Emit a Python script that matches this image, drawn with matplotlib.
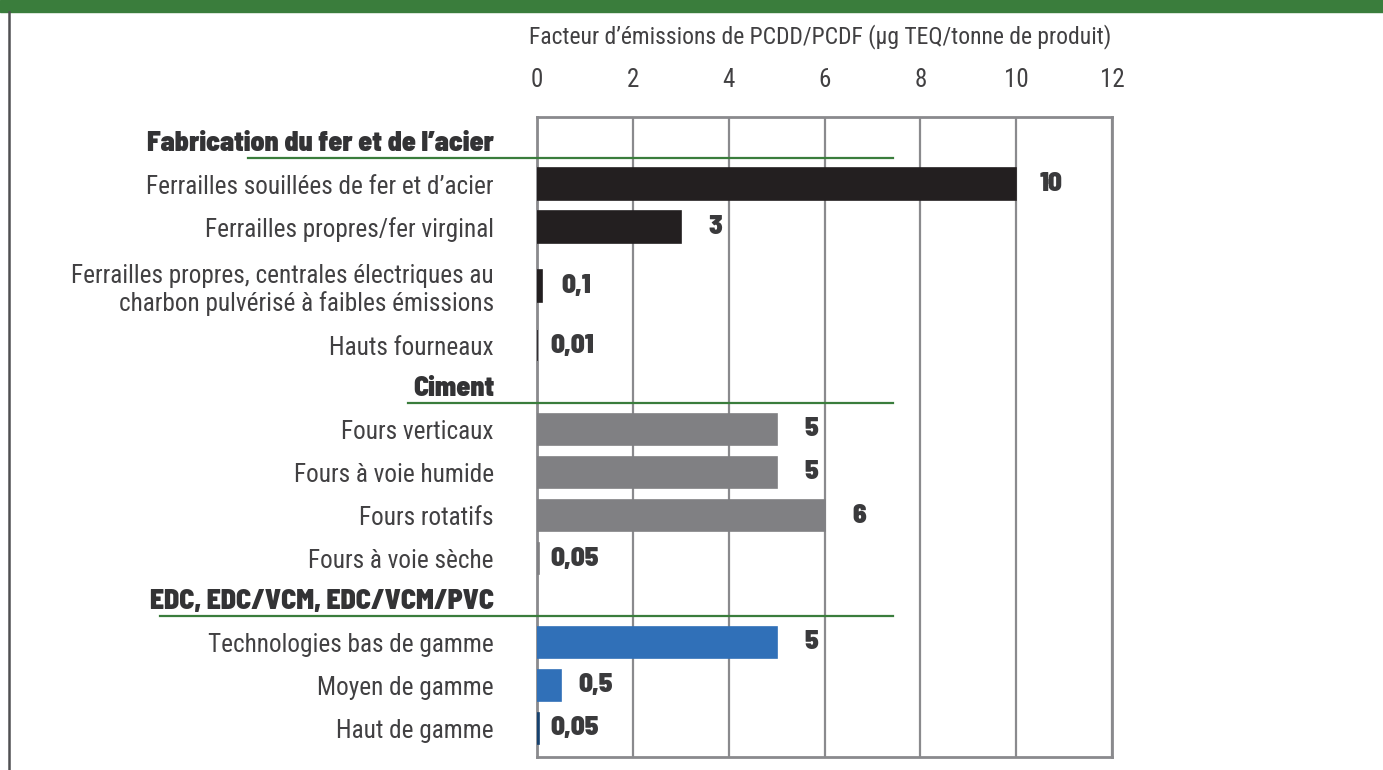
import numpy as np
import matplotlib
matplotlib.use("Agg")
import matplotlib.pyplot as plt
from matplotlib.lines import Line2D
from matplotlib.patches import Rectangle

plt.rcParams['font.family'] = ['Roboto Condensed', 'DejaVu Sans']
GRAS = ['Barlow Semi Condensed', 'Barlow Condensed', 'Roboto Condensed', 'DejaVu Sans']

# --- donnees ---
groupes = ["Fabrication du fer et de l\u2019acier", "Ciment", "EDC, EDC/VCM, EDC/VCM/PVC"]
categories = [
    ["Ferrailles souill\u00e9es de fer et d\u2019acier",
     "Ferrailles propres/fer virginal",
     "Ferrailles propres, centrales \u00e9lectriques au\ncharbon pulv\u00e9ris\u00e9 \u00e0 faibles \u00e9missions",
     "Hauts fourneaux"],
    ["Fours verticaux", "Fours \u00e0 voie humide", "Fours rotatifs", "Fours \u00e0 voie s\u00e8che"],
    ["Technologies bas de gamme", "Moyen de gamme", "Haut de gamme"],
]
valeurs = [
    [10, 3, 0.1, 0.01],
    [5, 5, 6, 0.05],
    [5, 0.5, 0.05],
]
couleurs = [
    ["#231f20", "#231f20", "#231f20", "#231f20"],
    ["#808083", "#808083", "#808083", "#808083"],
    ["#3070b8", "#3070b8", "#17426f"],
]
titre = "Facteur d\u2019\u00e9missions de PCDD/PCDF (\u00b5g TEQ/tonne de produit)"
ticks_x = [0, 2, 4, 6, 8, 10, 12]

VERT = "#3a7d3c"
GRIS_TXT = "#414042"
GRIS_AXE = "#8a8a8d"


def fmt(v):
    if float(v).is_integer():
        return str(int(v))
    return ("%g" % v).replace(".", ",")


# --- positions des lignes ---
pos_groupes, pos_bars, labels_bars, vals, cols = [], [], [], [], []
y = 0.57
for gi, (g, cats, vs, cs) in enumerate(zip(groupes, categories, valeurs, couleurs)):
    if gi > 0:
        y += 0.97
    pos_groupes.append(y)
    for c, v, col in zip(cats, vs, cs):
        y += 1.4 if "\n" in c else 1.025
        pos_bars.append(y)
        labels_bars.append(c)
        vals.append(v)
        cols.append(col)
        if "\n" in c:
            y += 0.4

fig = plt.figure(figsize=(13.83, 7.70), dpi=100)
ax = fig.add_axes([0.3883, 0.0169, 0.4158, 0.8311])

ax.barh(pos_bars, vals, height=0.75, color=cols, edgecolor=cols, linewidth=1.2, zorder=3)

for yb, v in zip(pos_bars, vals):
    ax.annotate(fmt(v), (v, yb), xytext=(25, 0), textcoords="offset points",
                ha="center", va="center", fontsize=19.5, fontweight=900,
                family=GRAS, color="#3a3a3c")

ax.set_xlim(0, 12)
ax.set_ylim(15.24, 0)

# axe x en haut
ax.xaxis.tick_top()
ax.set_xticks(ticks_x)
ax.set_xticklabels([str(t) for t in ticks_x], fontsize=18, color=GRIS_TXT)
ax.set_xticks(ticks_x[1:-1], minor=True)
ax.tick_params(axis="x", which="major", length=0, pad=18)
ax.tick_params(axis="x", which="minor", length=15, width=1.6, color=GRIS_AXE, top=True, bottom=False)
ax.grid(axis="x", which="major", color=GRIS_AXE, linewidth=1.6, zorder=0)
fig.text(0.593, 0.952, titre, fontsize=17, color=GRIS_TXT, ha="center", va="center")

# etiquettes y
all_pos = pos_groupes + pos_bars
all_lab = groupes + labels_bars
ax.set_yticks(all_pos)
ax.set_yticklabels(all_lab, fontsize=18.2, color=GRIS_TXT, linespacing=1.15)
for lab in ax.get_yticklabels()[:len(groupes)]:
    lab.set_family(GRAS)
    lab.set_fontweight(900)
    lab.set_fontsize(20)
    lab.set_color("#333335")
ax.tick_params(axis="y", length=0, pad=31)

for s in ax.spines.values():
    s.set_color(GRIS_AXE)
    s.set_linewidth(2)

# soulignements verts des groupes
debut_lignes = [-6.03, -2.69, -7.87]
for yg, x0 in zip(pos_groupes, debut_lignes):
    ax.add_line(Line2D([x0, 7.43], [yg + 0.4, yg + 0.4], color=VERT, linewidth=1.6,
                       clip_on=False, zorder=4))

# bandeau vert et bordure gauche
fig.add_artist(Rectangle((0, 0.984), 1, 0.016, transform=fig.transFigure, color=VERT))
fig.add_artist(Line2D([0.0062, 0.0062], [0, 0.984], transform=fig.transFigure,
                      color="#505052", linewidth=1.8))

fig.savefig("out.png", dpi=100)
